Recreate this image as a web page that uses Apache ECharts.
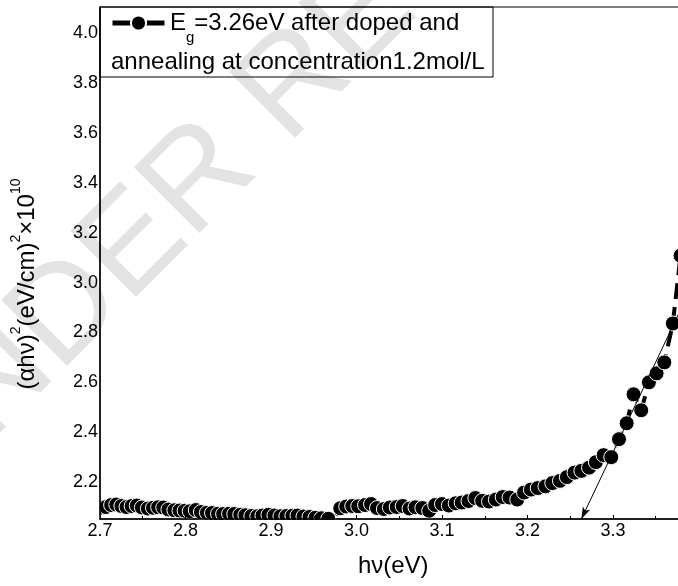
<!DOCTYPE html>
<html><head><meta charset="utf-8">
<script src="https://cdn.jsdelivr.net/npm/echarts@6/dist/echarts.min.js"></script>
<style>html,body{margin:0;padding:0;background:#fff}#c{width:678px;height:586px}</style>
</head><body><div id="c"></div>
<script>
// photon energy hν (eV)
const xValues = [
  2.702,2.707,2.713,2.719,2.725,2.731,2.737,2.743,2.749,2.756,
  2.762,2.768,2.774,2.780,2.787,2.793,2.799,2.805,2.812,2.818,
  2.825,2.831,2.838,2.844,2.851,2.857,2.864,2.870,2.877,2.884,
  2.890,2.897,2.904,2.911,2.918,2.925,2.931,2.938,2.945,2.952,
  2.959,2.967,2.974,
  2.981,2.988,2.995,3.002,3.010,3.017,3.024,3.032,3.039,3.047,
  3.054,3.062,3.069,3.077,3.085,3.092,3.100,3.108,3.116,3.123,
  3.131,3.139,3.147,3.155,3.163,3.171,3.179,3.188,3.196,
  3.204,3.212,3.221,3.229,3.238,3.246,3.255,3.263,3.272,3.280,
  3.289,3.298,3.307,3.316,3.324,3.333,3.342,3.351,3.360,3.370,3.379
];
// (αhν)^2 ×10^10
const yValues = [
  2.098,2.100,2.108,2.110,2.104,2.100,2.104,2.106,2.098,2.094,
  2.097,2.099,2.098,2.090,2.087,2.086,2.085,2.083,2.088,2.080,
  2.077,2.076,2.073,2.072,2.073,2.072,2.069,2.067,2.064,2.063,
  2.066,2.069,2.066,2.063,2.064,2.065,2.066,2.062,2.060,2.057,
  2.055,2.053,2.050,
  2.095,2.102,2.104,2.103,2.108,2.112,2.096,2.092,2.098,2.100,
  2.104,2.094,2.099,2.096,2.085,2.108,2.112,2.106,2.115,2.118,
  2.124,2.136,2.125,2.122,2.130,2.140,2.138,2.130,2.158,
  2.170,2.176,2.183,2.196,2.205,2.220,2.238,2.245,2.258,2.280,
  2.308,2.300,2.372,2.436,2.552,2.488,2.600,2.636,2.680,2.836,3.108
];
const yTickLabels = [2.2,2.4,2.6,2.8,3.0,3.2,3.4,3.6,3.8,4.0];
const egValue = 3.263;            // band gap intercept
const tangentTop = [3.40, 3.043]; // upper end of extrapolation line
const seriesName = 'Eg=3.26eV after doped and annealing at concentration1.2mol/L';
const legendLine1 = ['E', 'g', '=3.26eV after doped and'];
const legendLine2 = 'annealing at concentration1.2mol/L';

const FONT = '"Liberation Sans", Arial, sans-serif';
const yMin = 2.052, yMax = 4.105;

const chart = echarts.init(document.getElementById('c'), null, {renderer:'canvas'});
const points = xValues.map((x, i) => [x, yValues[i]]);

chart.setOption({
  animation: false,
  backgroundColor: '#fff',
  grid: {left: 100, top: 7, width: 598.5, height: 512, show: true,
         outerBoundsMode: 'none', containLabel: false,
         borderColor: '#000', borderWidth: 1, backgroundColor: 'transparent'},
  legend: {
    data: [seriesName], formatter: () => '', selectedMode: false,
    left: 110, top: 13.5, padding: 0, itemWidth: 52, itemHeight: 19,
    lineStyle: {width: 5, type: 'solid'}
  },
  xAxis: {
    type: 'value', min: 2.7, max: 3.4, interval: 0.1, z: 10,
    axisLine: {show: true, lineStyle: {color: '#000', width: 1.5}},
    axisTick: {show: true, inside: true, length: 4, lineStyle: {color: '#000'}},
    minorTick: {show: true, splitNumber: 2, length: 3, lineStyle: {color: '#000'}},
    splitLine: {show: false},
    axisLabel: {color: '#000', fontSize: 18, fontFamily: FONT, margin: 3,
                formatter: v => v.toFixed(1)},
    name: 'hν(eV)', nameLocation: 'middle', nameGap: 35,
    nameTextStyle: {color: '#000', fontSize: 24, fontFamily: FONT, padding: [0, 12, 0, 0]}
  },
  yAxis: {
    type: 'value', min: yMin, max: yMax, z: 10,
    axisLine: {show: true, lineStyle: {color: '#000', width: 1.5}},
    axisTick: {show: false},
    splitLine: {show: false},
    axisLabel: {customValues: yTickLabels, color: '#000', fontSize: 18, fontFamily: FONT,
                margin: 2, formatter: v => v.toFixed(1)},
    name: '{n|(αhν)}{s|2}{n|(eV/cm)}{s|2}{n|×10}{s|10}',
    nameLocation: 'middle', nameRotate: 90, nameGap: 55,
    nameTextStyle: {
      color: '#000', fontFamily: FONT, padding: [0, 42, 0, 0],
      rich: {
        n: {fontSize: 24, fontFamily: FONT, color: '#000'},
        s: {fontSize: 14, fontFamily: FONT, color: '#000', padding: [0, 0, 22, 0]}
      }
    }
  },
  graphic: [
    {type: 'text', x: -105, y: 485, rotation: Math.PI / 4, z: -5, silent: true,
     style: {text: 'UNDER REVIEW', fontSize: 135, fontFamily: FONT, fill: '#e3e3e3',
             textAlign: 'left', textVerticalAlign: 'middle', verticalAlign: 'middle'}},
    {type: 'rect', z: 5, silent: true, shape: {x: 0, y: 520, width: 678, height: 26},
     style: {fill: '#fff'}},
    {type: 'rect', z: 5, silent: true, shape: {x: 86, y: 490, width: 13.5, height: 30},
     style: {fill: '#fff'}},
    {type: 'rect', z: 11, silent: true, shape: {x: 100, y: 7, width: 393, height: 70},
     style: {fill: null, stroke: '#000', lineWidth: 1}},
    {type: 'text', x: 170, y: 23, z: 11, silent: true,
     style: {
       text: '{a|' + legendLine1[0] + '}{s|' + legendLine1[1] + '}{a|' + legendLine1[2] + '}',
       verticalAlign: 'middle', textVerticalAlign: 'middle', fill: '#000',
       rich: {
         a: {fontSize: 24, fontFamily: FONT, fill: '#000'},
         s: {fontSize: 15, fontFamily: FONT, fill: '#000', padding: [30, 0, 0, 0]}
       }
     }},
    {type: 'text', x: 111, y: 62, z: 11, silent: true,
     style: {text: legendLine2, fontSize: 24, fontFamily: FONT, fill: '#000',
             verticalAlign: 'middle', textVerticalAlign: 'middle'}}
  ],
  series: [{
    name: seriesName, type: 'line', data: points, z: 2,
    symbol: 'circle', symbolSize: 15, showAllSymbol: true, clip: true,
    itemStyle: {color: '#000', borderColor: '#fff', borderWidth: 1},
    lineStyle: {color: '#000', width: 4, type: [16, 8]},
    markLine: {
      silent: true, symbol: ['none', 'arrow'], symbolSize: [6, 12],
      label: {show: false},
      lineStyle: {color: '#000', width: 1, type: 'solid'},
      data: [[{coord: tangentTop}, {coord: [egValue, yMin]}]]
    }
  }]
});
</script></body></html>
